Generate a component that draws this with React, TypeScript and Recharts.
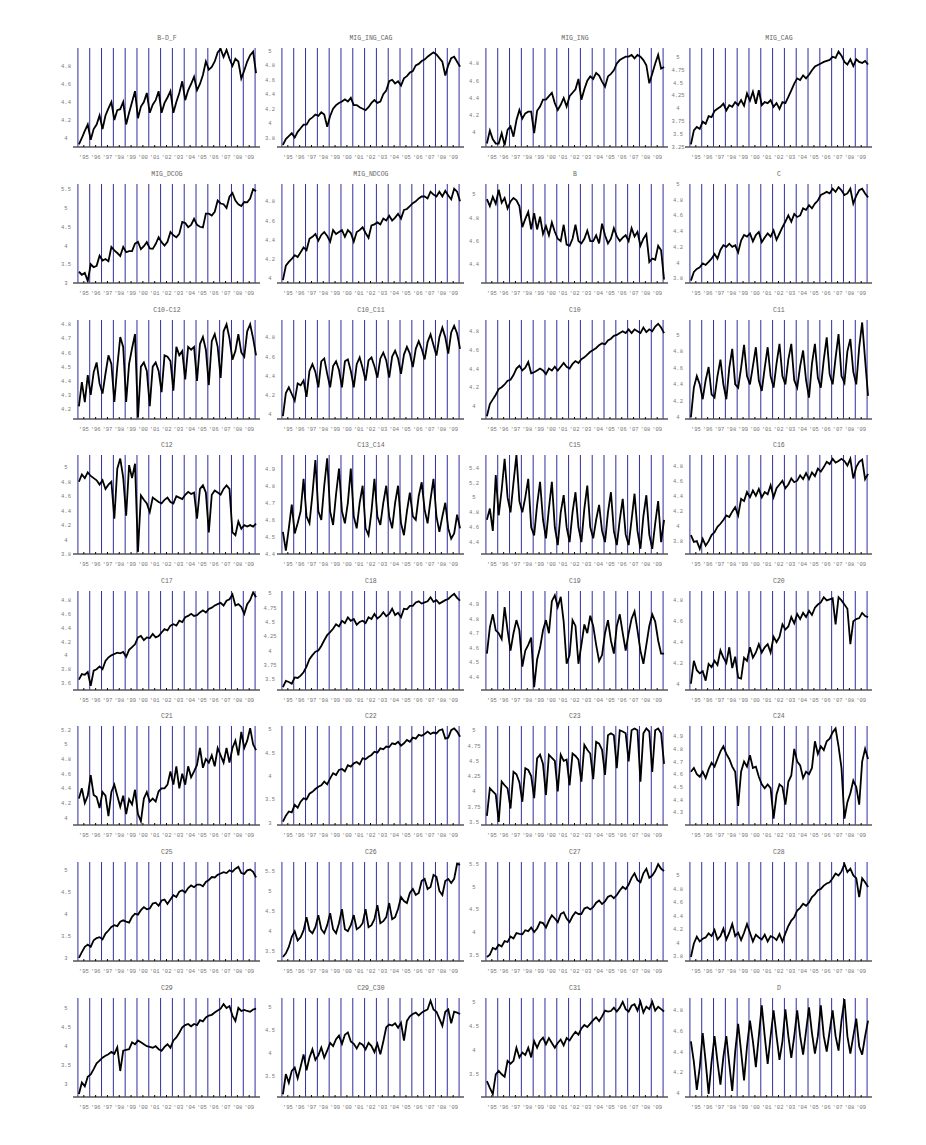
import React from "react";
import { Line, LineChart, ReferenceLine, XAxis, YAxis } from "recharts";

// quarterly readings, Jan95 .. Oct09 plus one final point
const MONTHS = Array.from({ length: 61 }, (_, i) => 1 + 3 * i);
const YEAR_LINES = [0, 12, 24, 36, 48, 60, 72, 84, 96, 108, 120, 132, 144, 156, 168, 180];
const YEAR_TICKS = [6, 18, 30, 42, 54, 66, 78, 90, 102, 114, 126, 138, 150, 162, 174];
const YEAR_LABELS = ["'95", "'96", "'97", "'98", "'99", "'00", "'01", "'02", "'03", "'04", "'05", "'06", "'07", "'08", "'09"];

const BDF = [3.93, 4.0, 4.08, 4.15, 3.98, 4.1, 4.15, 4.25, 4.1, 4.25, 4.33, 4.4, 4.2, 4.31, 4.32, 4.4, 4.15, 4.28, 4.4, 4.52, 4.22, 4.35, 4.4, 4.5, 4.28, 4.37, 4.42, 4.52, 4.28, 4.39, 4.45, 4.52, 4.28, 4.4, 4.5, 4.63, 4.42, 4.53, 4.6, 4.68, 4.53, 4.6, 4.7, 4.85, 4.76, 4.79, 4.85, 4.95, 4.99, 4.9, 4.98, 4.88, 4.8, 4.88, 4.85, 4.66, 4.75, 4.85, 4.92, 4.96, 4.72];
const MIG_ING_CAG = [3.7, 3.78, 3.82, 3.86, 3.8, 3.88, 3.93, 3.98, 3.98, 4.05, 4.08, 4.12, 4.1, 4.15, 4.12, 3.95, 4.1, 4.2, 4.25, 4.28, 4.3, 4.33, 4.3, 4.35, 4.25, 4.25, 4.22, 4.2, 4.18, 4.22, 4.28, 4.32, 4.28, 4.3, 4.4, 4.45, 4.58, 4.6, 4.55, 4.58, 4.52, 4.62, 4.65, 4.7, 4.72, 4.8, 4.82, 4.86, 4.88, 4.92, 4.95, 4.98, 4.95, 4.9, 4.85, 4.66, 4.8, 4.9, 4.92, 4.85, 4.78];
const MIG_ING = [3.87, 4.02, 3.92, 3.87, 3.87, 3.99, 3.85, 4.03, 4.07, 3.95, 4.14, 4.26, 4.16, 4.22, 4.24, 4.24, 3.99, 4.25, 4.3, 4.38, 4.38, 4.42, 4.46, 4.34, 4.26, 4.32, 4.4, 4.3, 4.42, 4.46, 4.5, 4.62, 4.38, 4.5, 4.6, 4.65, 4.62, 4.69, 4.66, 4.59, 4.53, 4.65, 4.68, 4.72, 4.8, 4.84, 4.86, 4.88, 4.88, 4.9, 4.86, 4.9, 4.88, 4.84, 4.78, 4.57, 4.68, 4.8, 4.9, 4.74, 4.76];
const MIG_CAG = [3.3, 3.57, 3.64, 3.6, 3.74, 3.7, 3.85, 3.83, 3.95, 3.99, 4.03, 4.09, 3.96, 4.06, 4.03, 4.12, 4.06, 4.16, 4.05, 4.29, 4.15, 4.32, 4.09, 4.35, 4.06, 4.12, 4.1, 4.16, 4.03, 4.1, 3.99, 4.12, 4.1, 4.22, 4.35, 4.48, 4.58, 4.55, 4.64, 4.58, 4.65, 4.74, 4.81, 4.84, 4.87, 4.9, 4.92, 4.94, 5.0, 4.98, 5.1, 5.02, 4.9, 4.85, 4.95, 4.82, 4.95, 4.9, 4.88, 4.92, 4.85];
const MIG_DCOG = [3.3, 3.22, 3.27, 3.05, 3.5, 3.42, 3.46, 3.73, 3.6, 3.64, 3.58, 3.96, 3.87, 3.8, 3.72, 3.96, 3.82, 3.85, 3.85, 4.05, 4.1, 3.9, 3.98, 4.09, 3.92, 3.91, 4.04, 4.22, 4.09, 4.0, 4.1, 4.36, 4.27, 4.22, 4.31, 4.63, 4.6, 4.49, 4.55, 4.71, 4.55, 4.5, 4.48, 4.85, 4.85, 4.8, 4.9, 5.2, 5.12, 5.1, 5.0, 5.3, 5.4, 5.2, 5.1, 5.05, 5.16, 5.15, 5.25, 5.5, 5.45];
const MIG_NDCOG = [3.98, 4.13, 4.17, 4.2, 4.24, 4.22, 4.27, 4.32, 4.29, 4.41, 4.43, 4.46, 4.39, 4.45, 4.48, 4.44, 4.38, 4.5, 4.46, 4.48, 4.5, 4.43, 4.5, 4.47, 4.38, 4.48, 4.5, 4.53, 4.47, 4.42, 4.55, 4.56, 4.58, 4.56, 4.62, 4.6, 4.65, 4.6, 4.63, 4.67, 4.62, 4.71, 4.72, 4.75, 4.78, 4.8, 4.83, 4.85, 4.85, 4.83, 4.9, 4.87, 4.85, 4.9, 4.85, 4.91, 4.86, 4.82, 4.93, 4.9, 4.8];
const B = [4.96, 4.9, 4.98, 4.92, 5.04, 4.93, 4.97, 4.88, 4.94, 4.97, 4.95, 4.9, 4.72, 4.79, 4.85, 4.7, 4.84, 4.7, 4.81, 4.66, 4.73, 4.65, 4.76, 4.68, 4.62, 4.6, 4.74, 4.57, 4.56, 4.62, 4.74, 4.6, 4.58, 4.62, 4.69, 4.6, 4.6, 4.65, 4.58, 4.75, 4.65, 4.58, 4.62, 4.71, 4.64, 4.6, 4.63, 4.65, 4.6, 4.71, 4.64, 4.68, 4.56, 4.62, 4.66, 4.42, 4.45, 4.44, 4.56, 4.52, 4.27];
const C = [3.77, 3.88, 3.92, 3.94, 3.99, 3.97, 4.01, 4.05, 4.11, 4.05, 4.16, 4.22, 4.2, 4.24, 4.2, 4.22, 4.13, 4.28, 4.35, 4.33, 4.37, 4.27, 4.35, 4.39, 4.26, 4.32, 4.37, 4.33, 4.41, 4.29, 4.37, 4.45, 4.52, 4.6, 4.52, 4.62, 4.58, 4.6, 4.69, 4.67, 4.73, 4.69, 4.75, 4.79, 4.86, 4.88, 4.9, 4.88, 4.94, 4.9, 4.96, 4.92, 4.86, 4.88, 4.94, 4.75, 4.85, 4.92, 4.94, 4.88, 4.83];
const C10_C12 = [4.22, 4.39, 4.25, 4.44, 4.3, 4.46, 4.53, 4.38, 4.31, 4.45, 4.58, 4.52, 4.25, 4.5, 4.71, 4.64, 4.25, 4.52, 4.63, 4.73, 4.14, 4.5, 4.53, 4.47, 4.22, 4.5, 4.53, 4.47, 4.32, 4.58, 4.57, 4.54, 4.33, 4.64, 4.58, 4.61, 4.41, 4.64, 4.62, 4.64, 4.4, 4.66, 4.71, 4.62, 4.37, 4.68, 4.73, 4.64, 4.42, 4.75, 4.8, 4.7, 4.55, 4.61, 4.73, 4.6, 4.57, 4.75, 4.8, 4.7, 4.58];
const C10_C11 = [3.98, 4.22, 4.28, 4.21, 4.14, 4.32, 4.3, 4.35, 4.18, 4.45, 4.52, 4.44, 4.28, 4.55, 4.58, 4.42, 4.28, 4.5, 4.55, 4.46, 4.28, 4.55, 4.57, 4.45, 4.28, 4.52, 4.59, 4.48, 4.35, 4.56, 4.59, 4.5, 4.38, 4.58, 4.64, 4.56, 4.38, 4.6, 4.66, 4.58, 4.42, 4.62, 4.7, 4.63, 4.49, 4.68, 4.76, 4.68, 4.57, 4.75, 4.83, 4.72, 4.61, 4.8, 4.9, 4.8, 4.63, 4.85, 4.92, 4.84, 4.68];
const C10 = [3.89, 4.02, 4.07, 4.12, 4.18, 4.2, 4.23, 4.27, 4.28, 4.33, 4.4, 4.43, 4.38, 4.41, 4.47, 4.35, 4.36, 4.38, 4.4, 4.38, 4.34, 4.4, 4.38, 4.42, 4.38, 4.42, 4.46, 4.42, 4.4, 4.45, 4.48, 4.46, 4.5, 4.52, 4.55, 4.58, 4.6, 4.62, 4.65, 4.67, 4.66, 4.7, 4.72, 4.75, 4.76, 4.78, 4.8, 4.78, 4.82, 4.78, 4.82, 4.8, 4.78, 4.84, 4.79, 4.82, 4.8, 4.85, 4.88, 4.84, 4.78];
const C11 = [4.0, 4.36, 4.5, 4.4, 4.22, 4.45, 4.61, 4.28, 4.24, 4.5, 4.7, 4.4, 4.22, 4.6, 4.83, 4.4, 4.36, 4.6, 4.88, 4.5, 4.4, 4.62, 4.85, 4.45, 4.32, 4.6, 4.85, 4.5, 4.36, 4.65, 4.89, 4.5, 4.4, 4.7, 4.89, 4.45, 4.36, 4.62, 4.81, 4.45, 4.24, 4.65, 4.89, 4.48, 4.36, 4.7, 4.97, 4.52, 4.4, 4.72, 5.01, 4.5, 4.42, 4.8, 4.95, 4.55, 4.4, 4.85, 5.15, 4.7, 4.26];
const C12 = [4.8, 4.9, 4.85, 4.93, 4.88, 4.85, 4.82, 4.76, 4.82, 4.7, 4.76, 4.8, 4.29, 4.98, 5.12, 4.86, 4.33, 5.03, 4.85, 5.05, 3.83, 4.61, 4.55, 4.5, 4.38, 4.58, 4.55, 4.52, 4.5, 4.55, 4.58, 4.52, 4.5, 4.6, 4.58, 4.56, 4.62, 4.66, 4.63, 4.65, 4.29, 4.7, 4.75, 4.65, 4.1, 4.62, 4.68, 4.65, 4.62, 4.7, 4.75, 4.7, 4.1, 4.06, 4.25, 4.15, 4.2, 4.18, 4.2, 4.18, 4.22];
const C13_C14 = [4.53, 4.42, 4.55, 4.69, 4.52, 4.58, 4.65, 4.84, 4.62, 4.58, 4.75, 4.95, 4.65, 4.6, 4.8, 4.96, 4.65, 4.57, 4.75, 4.9, 4.65, 4.58, 4.7, 4.9, 4.62, 4.55, 4.7, 4.8, 4.55, 4.51, 4.65, 4.84, 4.62, 4.57, 4.7, 4.8, 4.62, 4.55, 4.7, 4.8, 4.58, 4.51, 4.65, 4.76, 4.62, 4.6, 4.74, 4.82, 4.66, 4.58, 4.72, 4.84, 4.62, 4.53, 4.62, 4.7, 4.55, 4.49, 4.52, 4.63, 4.55];
const C15 = [4.7, 4.85, 4.55, 5.3, 4.76, 5.1, 5.52, 5.0, 4.8, 5.2, 5.57, 4.95, 4.8, 5.0, 5.25, 4.6, 4.49, 4.9, 5.21, 4.7, 4.45, 4.85, 5.21, 4.6, 4.36, 4.8, 5.03, 4.6, 4.4, 4.8, 5.07, 4.6, 4.4, 4.85, 5.16, 4.6, 4.45, 4.7, 4.9, 4.55, 4.4, 4.8, 5.07, 4.55, 4.36, 4.7, 4.98, 4.5, 4.36, 4.7, 5.05, 4.55, 4.31, 4.75, 5.03, 4.5, 4.31, 4.65, 4.95, 4.4, 4.7];
const C16 = [3.88, 3.79, 3.8, 3.7, 3.83, 3.74, 3.8, 3.88, 3.92, 3.99, 4.03, 4.08, 4.14, 4.12, 4.19, 4.25, 4.14, 4.36, 4.33, 4.45, 4.38, 4.47, 4.4, 4.49, 4.38, 4.45, 4.42, 4.54, 4.38, 4.5, 4.55, 4.6, 4.5, 4.55, 4.63, 4.58, 4.6, 4.67, 4.62, 4.7, 4.62, 4.71, 4.66, 4.76, 4.72, 4.78, 4.85, 4.82, 4.89, 4.84, 4.86, 4.89, 4.86, 4.8, 4.89, 4.63, 4.78, 4.85, 4.88, 4.62, 4.69];
const C17 = [3.65, 3.73, 3.72, 3.76, 3.56, 3.78, 3.8, 3.84, 3.8, 3.92, 3.97, 4.0, 4.02, 4.04, 4.03, 4.05, 3.98, 4.08, 4.12, 4.16, 4.26, 4.28, 4.22, 4.26, 4.25, 4.31, 4.26, 4.28, 4.33, 4.38, 4.36, 4.43, 4.45, 4.43, 4.5, 4.48, 4.55, 4.57, 4.6, 4.57, 4.58, 4.62, 4.65, 4.62, 4.67, 4.69, 4.72, 4.74, 4.76, 4.72, 4.79, 4.81, 4.88, 4.72, 4.74, 4.7, 4.6, 4.74, 4.8, 4.91, 4.84];
const C18 = [3.36, 3.47, 3.45, 3.42, 3.53, 3.52, 3.56, 3.62, 3.72, 3.85, 3.92, 3.98, 4.0, 4.08, 4.18, 4.27, 4.32, 4.38, 4.46, 4.42, 4.52, 4.48, 4.58, 4.52, 4.55, 4.45, 4.5, 4.52, 4.48, 4.58, 4.55, 4.64, 4.56, 4.6, 4.67, 4.6, 4.64, 4.73, 4.62, 4.66, 4.58, 4.73, 4.72, 4.78, 4.78, 4.84, 4.86, 4.82, 4.84, 4.86, 4.93, 4.85, 4.88, 4.82, 4.85, 4.88, 4.9, 4.95, 4.99, 4.92, 4.87];
const C19 = [4.56, 4.74, 4.83, 4.72, 4.7, 4.66, 4.88, 4.72, 4.58, 4.7, 4.79, 4.72, 4.47, 4.58, 4.62, 4.67, 4.33, 4.52, 4.6, 4.72, 4.79, 4.7, 4.92, 4.96, 4.88, 4.95, 4.78, 4.49, 4.55, 4.79, 4.75, 4.49, 4.62, 4.76, 4.7, 4.82, 4.75, 4.62, 4.51, 4.55, 4.7, 4.79, 4.65, 4.56, 4.75, 4.83, 4.7, 4.58, 4.7, 4.8, 4.85, 4.72, 4.58, 4.49, 4.62, 4.75, 4.83, 4.78, 4.65, 4.56, 4.56];
const C20 = [4.0, 4.22, 4.13, 4.1, 4.12, 4.03, 4.19, 4.16, 4.22, 4.18, 4.32, 4.25, 4.2, 4.35, 4.15, 4.26, 4.06, 4.05, 4.25, 4.22, 4.35, 4.25, 4.3, 4.38, 4.3, 4.35, 4.38, 4.3, 4.45, 4.4, 4.45, 4.57, 4.52, 4.55, 4.64, 4.58, 4.67, 4.62, 4.68, 4.64, 4.7, 4.66, 4.73, 4.76, 4.78, 4.83, 4.8, 4.81, 4.82, 4.57, 4.83, 4.8, 4.76, 4.72, 4.38, 4.6, 4.62, 4.63, 4.68, 4.65, 4.64];
const C21 = [4.26, 4.4, 4.2, 4.3, 4.58, 4.31, 4.28, 4.13, 4.35, 4.3, 4.02, 4.35, 4.45, 4.3, 4.15, 4.3, 4.05, 4.25, 4.18, 4.38, 4.05, 3.95, 4.26, 4.35, 4.22, 4.26, 4.22, 4.36, 4.4, 4.4, 4.45, 4.63, 4.45, 4.7, 4.4, 4.6, 4.45, 4.7, 4.55, 4.63, 4.72, 4.95, 4.68, 4.8, 4.75, 4.85, 4.7, 4.95, 4.85, 4.75, 4.95, 4.75, 4.95, 5.05, 4.85, 5.17, 4.95, 5.05, 5.22, 5.0, 4.92];
const C22 = [3.02, 3.15, 3.24, 3.22, 3.38, 3.32, 3.45, 3.52, 3.5, 3.62, 3.66, 3.72, 3.77, 3.8, 3.88, 3.82, 3.95, 4.06, 4.02, 4.13, 4.15, 4.1, 4.23, 4.2, 4.27, 4.3, 4.25, 4.38, 4.36, 4.41, 4.45, 4.52, 4.5, 4.59, 4.57, 4.63, 4.62, 4.7, 4.68, 4.73, 4.65, 4.7, 4.77, 4.73, 4.82, 4.8, 4.88, 4.86, 4.9, 4.95, 4.9, 4.93, 4.91, 4.98, 5.0, 4.8, 4.82, 4.98, 5.02, 4.95, 4.84];
const C23 = [3.6, 4.05, 4.0, 3.95, 3.5, 4.16, 4.1, 4.05, 3.72, 4.32, 4.28, 4.15, 3.83, 4.38, 4.35, 4.25, 3.89, 4.54, 4.6, 4.45, 3.94, 4.6, 4.55, 4.5, 4.0, 4.6, 4.5, 4.52, 4.1, 4.62, 4.58, 4.52, 4.16, 4.76, 4.68, 4.62, 4.2, 4.81, 4.78, 4.68, 4.27, 4.92, 4.95, 4.92, 4.38, 5.0, 4.98, 4.95, 4.49, 5.0, 5.03, 5.0, 4.16, 4.95, 5.03, 4.98, 4.32, 5.0, 5.03, 4.95, 4.45];
const C24 = [4.62, 4.65, 4.6, 4.58, 4.62, 4.57, 4.64, 4.69, 4.66, 4.72, 4.78, 4.82, 4.76, 4.72, 4.66, 4.62, 4.35, 4.62, 4.7, 4.66, 4.75, 4.65, 4.66, 4.58, 4.52, 4.49, 4.52, 4.49, 4.25, 4.44, 4.52, 4.5, 4.36, 4.54, 4.59, 4.8, 4.7, 4.67, 4.57, 4.62, 4.6, 4.65, 4.86, 4.76, 4.82, 4.79, 4.86, 4.88, 4.93, 4.96, 4.82, 4.65, 4.25, 4.38, 4.45, 4.55, 4.5, 4.36, 4.7, 4.8, 4.72];
const C25 = [3.0, 3.13, 3.25, 3.3, 3.25, 3.4, 3.45, 3.47, 3.42, 3.55, 3.62, 3.7, 3.74, 3.72, 3.82, 3.85, 3.82, 3.8, 3.93, 4.0, 3.98, 4.08, 4.15, 4.1, 4.12, 4.23, 4.25, 4.18, 4.3, 4.32, 4.22, 4.32, 4.42, 4.38, 4.5, 4.53, 4.48, 4.58, 4.64, 4.6, 4.66, 4.66, 4.62, 4.72, 4.76, 4.83, 4.82, 4.88, 4.91, 4.94, 4.92, 4.98, 4.95, 5.02, 5.06, 4.92, 4.9, 4.98, 5.0, 4.95, 4.82];
const C26 = [3.36, 3.45, 3.61, 3.86, 4.0, 3.77, 3.85, 4.02, 4.35, 4.02, 3.95, 4.1, 4.4, 4.05, 3.95, 4.15, 4.45, 4.05, 3.95, 4.2, 4.55, 4.05, 4.0, 4.15, 4.4, 4.05, 4.1, 4.2, 4.55, 4.1, 4.15, 4.3, 4.65, 4.2, 4.25, 4.35, 4.7, 4.3, 4.35, 4.55, 4.85, 4.75, 4.7, 4.95, 5.05, 4.9, 4.95, 5.25, 5.3, 5.05, 5.1, 5.4, 5.35, 5.0, 4.9, 5.25, 5.3, 5.2, 5.3, 5.68, 5.65];
const C27 = [3.45, 3.5, 3.65, 3.62, 3.72, 3.68, 3.8, 3.78, 3.9, 3.86, 3.98, 3.96, 3.95, 4.04, 4.02, 4.1, 4.0, 4.08, 4.22, 4.2, 4.1, 4.25, 4.37, 4.3, 4.22, 4.4, 4.44, 4.3, 4.22, 4.35, 4.44, 4.4, 4.4, 4.52, 4.55, 4.5, 4.55, 4.65, 4.7, 4.62, 4.68, 4.78, 4.81, 4.75, 4.82, 4.92, 5.0, 4.95, 5.05, 5.2, 5.3, 5.15, 5.1, 5.3, 5.4, 5.2, 5.25, 5.35, 5.5, 5.4, 5.35];
const C28 = [3.79, 3.99, 4.09, 4.02, 4.06, 4.08, 4.14, 4.1, 4.19, 4.05, 4.1, 4.21, 4.05, 4.15, 4.28, 4.1, 4.15, 4.04, 4.15, 4.28, 4.15, 4.02, 4.12, 4.08, 4.05, 4.12, 4.02, 4.1, 4.08, 4.04, 4.13, 4.02, 4.14, 4.25, 4.33, 4.38, 4.48, 4.52, 4.58, 4.55, 4.6, 4.68, 4.72, 4.78, 4.8, 4.85, 4.88, 4.9, 4.96, 5.03, 5.0, 5.06, 5.17, 5.05, 5.1, 5.0, 4.96, 4.68, 4.96, 4.9, 4.83];
const C29 = [2.75, 3.05, 2.95, 3.2, 3.26, 3.4, 3.55, 3.62, 3.7, 3.75, 3.79, 3.85, 3.8, 3.97, 3.35, 3.88, 3.9, 3.92, 4.1, 4.05, 4.15, 4.1, 4.05, 4.0, 3.98, 3.96, 4.0, 3.92, 3.88, 3.98, 4.05, 3.96, 4.15, 4.23, 4.35, 4.49, 4.55, 4.58, 4.52, 4.58, 4.55, 4.68, 4.65, 4.75, 4.8, 4.82, 4.88, 4.93, 4.98, 5.1, 5.0, 5.05, 4.8, 4.66, 5.0, 4.92, 4.95, 4.92, 4.9, 4.96, 4.98];
const C29_C30 = [3.1, 3.54, 3.35, 3.61, 3.68, 3.45, 3.7, 3.97, 3.62, 3.9, 4.08, 3.85, 3.95, 4.12, 3.9, 4.05, 4.22, 4.15, 4.3, 4.38, 4.2, 4.4, 4.45, 4.25, 4.2, 4.1, 4.22, 4.18, 4.08, 4.22, 4.15, 4.02, 4.2, 3.97, 4.25, 4.56, 4.62, 4.6, 4.65, 4.55, 4.66, 4.27, 4.7, 4.8, 4.85, 4.88, 4.82, 4.88, 4.92, 4.95, 5.14, 4.95, 4.9, 4.75, 4.59, 4.9, 4.95, 4.65, 4.9, 4.88, 4.85];
const C31 = [3.36, 3.22, 3.09, 3.5, 3.57, 3.5, 3.45, 3.78, 3.72, 3.78, 4.05, 3.85, 3.95, 3.9, 4.05, 3.85, 4.19, 4.05, 4.19, 4.26, 4.12, 4.25, 4.15, 4.05, 4.15, 4.22, 4.1, 4.25, 4.2, 4.3, 4.38, 4.32, 4.45, 4.52, 4.48, 4.55, 4.62, 4.68, 4.6, 4.7, 4.82, 4.8, 4.81, 4.88, 4.8, 4.88, 5.0, 4.85, 4.8, 4.92, 4.95, 4.82, 5.0, 4.78, 4.9, 4.85, 5.0, 4.82, 4.9, 4.85, 4.8];
const D = [4.5, 4.3, 4.03, 4.25, 4.58, 4.3, 3.99, 4.3, 4.55, 4.3, 4.08, 4.35, 4.55, 4.28, 4.02, 4.4, 4.67, 4.4, 4.12, 4.45, 4.7, 4.5, 4.25, 4.55, 4.85, 4.55, 4.28, 4.55, 4.8, 4.55, 4.32, 4.5, 4.81, 4.55, 4.34, 4.55, 4.8, 4.55, 4.37, 4.6, 4.83, 4.58, 4.38, 4.55, 4.85, 4.55, 4.4, 4.6, 4.8, 4.55, 4.41, 4.7, 4.91, 4.55, 4.38, 4.55, 4.72, 4.45, 4.37, 4.55, 4.7];

const PANELS = [
  { title: "B-D_F", values: BDF, domain: [3.9, 5.0], ticks: [4, 4.2, 4.4, 4.6, 4.8] },
  { title: "MIG_ING_CAG", values: MIG_ING_CAG, domain: [3.67, 5.04], ticks: [3.8, 4, 4.2, 4.4, 4.6, 4.8, 5] },
  { title: "MIG_ING", values: MIG_ING, domain: [3.83, 4.98], ticks: [4, 4.2, 4.4, 4.6, 4.8] },
  { title: "MIG_CAG", values: MIG_CAG, domain: [3.25, 5.17], ticks: [3.25, 3.5, 3.75, 4, 4.25, 4.5, 4.75, 5] },
  { title: "MIG_DCOG", values: MIG_DCOG, domain: [3.0, 5.64], ticks: [3, 3.5, 4, 4.5, 5, 5.5] },
  { title: "MIG_NDCOG", values: MIG_NDCOG, domain: [3.95, 4.98], ticks: [4, 4.2, 4.4, 4.6, 4.8] },
  { title: "B", values: B, domain: [4.24, 5.09], ticks: [4.4, 4.6, 4.8, 5] },
  { title: "C", values: C, domain: [3.74, 5.0], ticks: [3.8, 4, 4.2, 4.4, 4.6, 4.8, 5] },
  { title: "C10-C12", values: C10_C12, domain: [4.13, 4.83], ticks: [4.2, 4.3, 4.4, 4.5, 4.6, 4.7, 4.8] },
  { title: "C10_C11", values: C10_C11, domain: [3.95, 4.98], ticks: [4, 4.2, 4.4, 4.6, 4.8] },
  { title: "C10", values: C10, domain: [3.86, 4.92], ticks: [4, 4.2, 4.4, 4.6, 4.8] },
  { title: "C11", values: C11, domain: [3.98, 5.18], ticks: [4, 4.2, 4.4, 4.6, 4.8, 5] },
  { title: "C12", values: C12, domain: [3.8, 5.17], ticks: [3.8, 4, 4.2, 4.4, 4.6, 4.8, 5] },
  { title: "C13_C14", values: C13_C14, domain: [4.4, 4.98], ticks: [4.4, 4.5, 4.6, 4.7, 4.8, 4.9] },
  { title: "C15", values: C15, domain: [4.24, 5.57], ticks: [4.4, 4.6, 4.8, 5, 5.2, 5.4] },
  { title: "C16", values: C16, domain: [3.63, 4.94], ticks: [3.8, 4, 4.2, 4.4, 4.6, 4.8] },
  { title: "C17", values: C17, domain: [3.5, 4.93], ticks: [3.6, 3.8, 4, 4.2, 4.4, 4.6, 4.8] },
  { title: "C18", values: C18, domain: [3.31, 5.04], ticks: [3.5, 3.75, 4, 4.25, 4.5, 4.75, 5] },
  { title: "C19", values: C19, domain: [4.31, 4.99], ticks: [4.4, 4.5, 4.6, 4.7, 4.8, 4.9] },
  { title: "C20", values: C20, domain: [3.94, 4.89], ticks: [4, 4.2, 4.4, 4.6, 4.8] },
  { title: "C21", values: C21, domain: [3.9, 5.25], ticks: [4, 4.2, 4.4, 4.6, 4.8, 5, 5.2] },
  { title: "C22", values: C22, domain: [2.95, 5.07], ticks: [3, 3.5, 4, 4.5, 5] },
  { title: "C23", values: C23, domain: [3.45, 5.07], ticks: [3.5, 3.75, 4, 4.25, 4.5, 4.75, 5] },
  { title: "C24", values: C24, domain: [4.2, 4.98], ticks: [4.3, 4.4, 4.5, 4.6, 4.7, 4.8, 4.9] },
  { title: "C25", values: C25, domain: [2.93, 5.17], ticks: [3, 3.5, 4, 4.5, 5] },
  { title: "C26", values: C26, domain: [3.26, 5.72], ticks: [3.5, 4, 4.5, 5, 5.5] },
  { title: "C27", values: C27, domain: [3.36, 5.55], ticks: [3.5, 4, 4.5, 5, 5.5] },
  { title: "C28", values: C28, domain: [3.73, 5.2], ticks: [3.8, 4, 4.2, 4.4, 4.6, 4.8, 5] },
  { title: "C29", values: C29, domain: [2.67, 5.26], ticks: [3, 3.5, 4, 4.5, 5] },
  { title: "C29_C30", values: C29_C30, domain: [3.04, 5.2], ticks: [3.5, 4, 4.5, 5] },
  { title: "C31", values: C31, domain: [3.03, 5.08], ticks: [3.5, 4, 4.5, 5] },
  { title: "D", values: D, domain: [3.96, 4.92], ticks: [4, 4.2, 4.4, 4.6, 4.8] },
];

const PLOT_W = 187;
const PLOT_H = 99;
const AXIS_W = 30;
const TOP = 5;
const BOTTOM = 20;
const FONT = "'Liberation Mono', 'DejaVu Sans Mono', monospace";

function panelPos(i: number) {
  const col = i % 4;
  const row = Math.floor(i / 4);
  return { left: 73.4 + 204 * col, top: 48.3 + 135.6 * row };
}

function YTick(props: any) {
  const { x, y, payload } = props;
  return (
    <text x={x - 7} y={y} dy={2} textAnchor="middle" fontSize={5.5} fill="#777" fontFamily={FONT}>
      {payload.value}
    </text>
  );
}

function Panel({ panel, index }: { panel: (typeof PANELS)[number]; index: number }) {
  const { left, top } = panelPos(index);
  const data = panel.values.map((v, i) => ({ m: MONTHS[i], v }));
  return (
    <div style={{ position: "absolute", left: left - AXIS_W, top: top - TOP }}>
      <LineChart
        width={AXIS_W + PLOT_W + 2}
        height={TOP + PLOT_H + BOTTOM}
        data={data}
        margin={{ top: TOP, right: 2, bottom: 0, left: 0 }}
      >
        <XAxis
          type="number"
          dataKey="m"
          domain={[-5, 185]}
          ticks={YEAR_TICKS}
          interval={0}
          allowDataOverflow
          height={BOTTOM}
          tickFormatter={(_v, i) => YEAR_LABELS[i]}
          axisLine={{ stroke: "#555", strokeWidth: 1.5 }}
          tickLine={{ stroke: "#000" }}
          tickSize={-2}
          tickMargin={10}
          tick={{ fontSize: 5.5, fill: "#777", fontFamily: FONT }}
        />
        <YAxis
          type="number"
          domain={panel.domain}
          ticks={panel.ticks}
          interval={0}
          allowDataOverflow
          width={AXIS_W}
          axisLine={false}
          tickLine={false}
          tickSize={0}
          tickMargin={0}
          tick={YTick}
        />
        {YEAR_LINES.map((m) => (
          <ReferenceLine key={m} x={m} stroke="#2e2ea0" strokeWidth={1} />
        ))}
        <Line
          type="linear"
          dataKey="v"
          stroke="#000"
          strokeWidth={1.8}
          dot={false}
          isAnimationActive={false}
        />
      </LineChart>
    </div>
  );
}

export default function App() {
  return (
    <div style={{ position: "absolute", left: 0, top: 0, width: 926, height: 1145, background: "#fff" }}>
      {PANELS.map((p, i) => (
        <Panel key={p.title} panel={p} index={i} />
      ))}
      <svg width={926} height={1145} style={{ position: "absolute", left: 0, top: 0, pointerEvents: "none" }}>
        {PANELS.map((p, i) => {
          const { left, top } = panelPos(i);
          return (
            <text
              key={p.title}
              x={left + PLOT_W / 2}
              y={top - 8}
              textAnchor="middle"
              fontSize={6.5}
              fill="#666"
              fontFamily={FONT}
            >
              {p.title}
            </text>
          );
        })}
      </svg>
    </div>
  );
}
